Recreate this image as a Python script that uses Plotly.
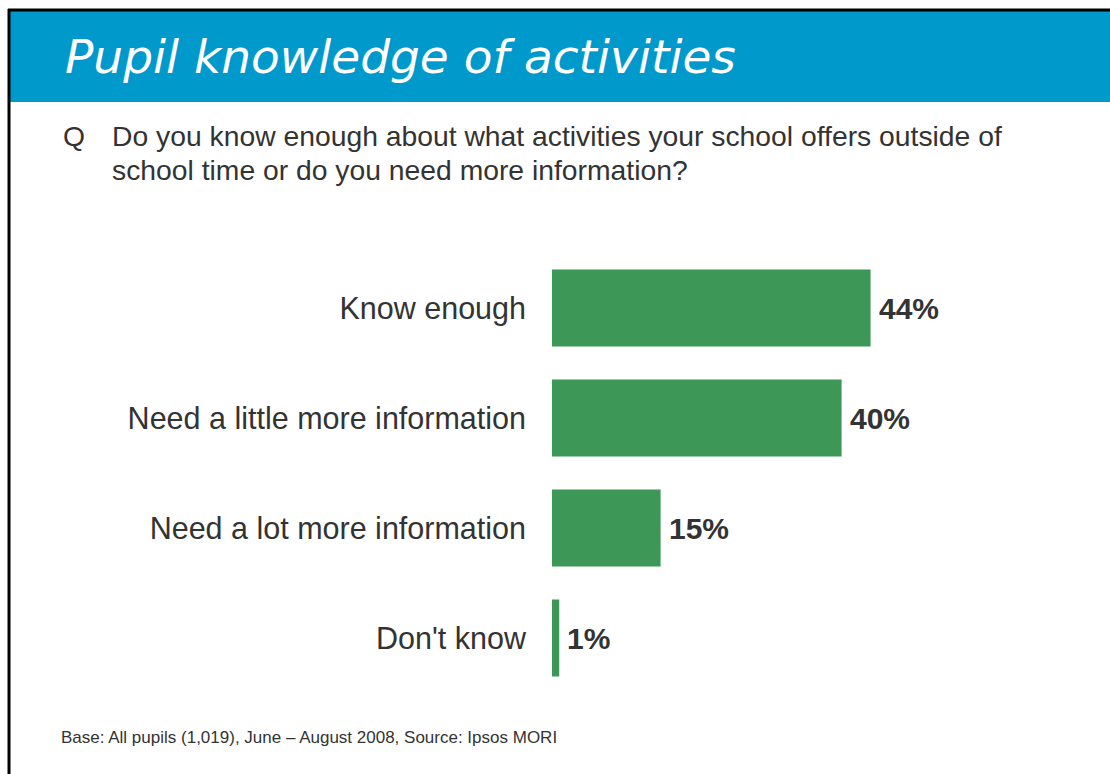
import plotly.graph_objects as go

categories = ["Know enough", "Need a little more information", "Need a lot more information", "Don't know"]
values = [44, 40, 15, 1]
value_labels = ["44%", "40%", "15%", "1%"]

title_text = "Pupil knowledge of activities"
question_lines = ["Do you know enough about what activities your school offers outside of",
                  "school time or do you need more information?"]
base_note = "Base: All pupils (1,019), June \u2013 August 2008, Source: Ipsos MORI"

W, H = 1110, 774
ML, MR, MT, MB = 552, 10, 253, 81
PW, PH = W - ML - MR, H - MT - MB


def px(x):
    return (x - ML) / PW


def py(y):
    return (H - MB - y) / PH


fig = go.Figure(go.Bar(
    x=values, y=categories, orientation="h",
    marker=dict(color="#3d9756", line=dict(width=0)),
))

# value labels just right of each bar end
for cat, v, lab in zip(categories, values, value_labels):
    fig.add_annotation(x=v, y=cat, text=lab, xanchor="left", yanchor="middle", xshift=6,
                       showarrow=False,
                       font=dict(family="Liberation Sans, Arial", size=30, color="#333333", weight="bold"))

fig.update_layout(
    width=W, height=H,
    margin=dict(l=ML, r=MR, t=MT, b=MB),
    plot_bgcolor="white", paper_bgcolor="white",
    bargap=0.3,
    showlegend=False,
    font=dict(family="Liberation Sans, Arial", color="#333333"),
)
fig.update_xaxes(range=[0, PW / 7.24], visible=False)
fig.update_yaxes(autorange="reversed", showline=False, showgrid=False, zeroline=False,
                 ticks="", ticklabelstandoff=25,
                 tickfont=dict(size=30.5, color="#333333"))

# header band and frame
fig.add_shape(type="rect", xref="paper", yref="paper", x0=px(10), x1=px(1110), y0=py(102), y1=py(11),
              fillcolor="#0099cc", line_width=0, layer="below")
fig.add_shape(type="line", xref="paper", yref="paper", x0=px(8), x1=px(1110), y0=py(10), y1=py(10),
              line=dict(color="black", width=3))
fig.add_shape(type="line", xref="paper", yref="paper", x0=px(9), x1=px(9), y0=py(9), y1=py(774),
              line=dict(color="black", width=3))

fig.add_annotation(text=title_text, xref="paper", yref="paper", x=px(63), y=py(57),
                   xanchor="left", yanchor="middle", showarrow=False,
                   font=dict(family="DejaVu Sans", size=47, color="white", style="italic"))
fig.add_annotation(text="Q", xref="paper", yref="paper", x=px(61), y=py(136),
                   xanchor="left", yanchor="middle", showarrow=False,
                   font=dict(size=28.3, color="#333333"))
for i, line in enumerate(question_lines):
    fig.add_annotation(text=line, xref="paper", yref="paper", x=px(110), y=py(136 + 34 * i),
                       xanchor="left", yanchor="middle", showarrow=False,
                       font=dict(size=28.3, color="#333333"))
fig.add_annotation(text=base_note, xref="paper", yref="paper", x=px(59), y=py(737),
                   xanchor="left", yanchor="middle", showarrow=False,
                   font=dict(size=17, color="#333333"))

fig.write_html("out.html", config={"displayModeBar": False},
               post_script="document.body.style.margin='0';")
